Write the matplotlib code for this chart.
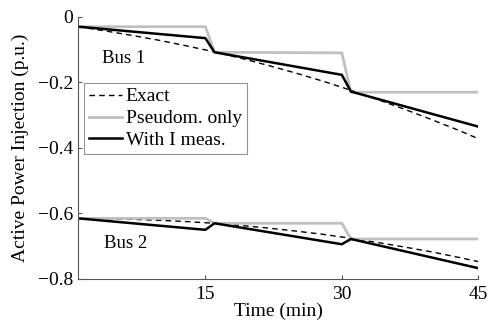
import matplotlib
matplotlib.use("Agg")
import matplotlib.pyplot as plt

plt.rcParams["font.family"] = ["Liberation Serif", "DejaVu Serif"]
plt.rcParams["font.size"] = 14

# time axis (min)
t_exact = [1, 4, 7, 10, 13, 16, 19, 22, 25, 28, 31, 34, 37, 40, 43, 45]
bus1_exact = [-0.030, -0.043, -0.057, -0.072, -0.089, -0.107, -0.127, -0.149,
              -0.172, -0.197, -0.224, -0.253, -0.283, -0.315, -0.348, -0.372]
bus2_exact = [-0.615, -0.616, -0.618, -0.621, -0.625, -0.630, -0.637, -0.645,
              -0.654, -0.664, -0.676, -0.689, -0.703, -0.718, -0.735, -0.747]

t_step = [1, 15, 16, 30, 31, 45]
bus1_pseudo = [-0.030, -0.030, -0.108, -0.110, -0.230, -0.230]
bus1_meas = [-0.030, -0.065, -0.108, -0.177, -0.228, -0.335]
bus2_pseudo = [-0.615, -0.615, -0.630, -0.630, -0.678, -0.678]
bus2_meas = [-0.615, -0.650, -0.630, -0.694, -0.678, -0.767]

fig = plt.figure(figsize=(4.91, 3.24), dpi=100)
ax = fig.add_axes([0.159, 0.139, 0.815, 0.809])

ax.plot(t_exact, bus1_exact, "k--", lw=1, dashes=(4, 3), label="Exact")
ax.plot(t_step, bus1_pseudo, color="#c0c0c0", lw=2, label="Pseudom. only")
ax.plot(t_step, bus1_meas, "k-", lw=1.8, label="With I meas.")
ax.plot(t_exact, bus2_exact, "k--", lw=1, dashes=(4, 3))
ax.plot(t_step, bus2_pseudo, color="#c0c0c0", lw=2)
ax.plot(t_step, bus2_meas, "k-", lw=1.8)

ax.text(3.6, -0.128, "Bus 1", fontsize=13.5, va="center")
ax.text(3.9, -0.693, "Bus 2", fontsize=13.5, va="center")

ax.set_xlim(1, 45)
ax.set_ylim(-0.8, 0)
ax.set_xticks([15, 30, 45])
ax.set_yticks([0, -0.2, -0.4, -0.6, -0.8])
ax.set_yticklabels(["0", "\u22120.2", "\u22120.4", "\u22120.6", "\u22120.8"])
ax.tick_params(direction="in", length=3, width=0.8, color="#555555")
ax.tick_params(axis="x", pad=5)
for s in ["top", "right"]:
    ax.spines[s].set_visible(False)
for s in ["left", "bottom"]:
    ax.spines[s].set_color("#555555")
ax.set_xlabel("Time (min)", labelpad=0)
ax.set_ylabel("Active Power Injection (p.u.)", labelpad=6)

leg = ax.legend(loc="upper left", bbox_to_anchor=(0.0, 0.77), fancybox=False,
                handlelength=1.7, handletextpad=0.2, borderpad=0.25,
                labelspacing=0.22, borderaxespad=0.3)
leg.get_frame().set_edgecolor("#777777")
leg.get_frame().set_linewidth(0.8)

fig.savefig("out.png", dpi=100)
